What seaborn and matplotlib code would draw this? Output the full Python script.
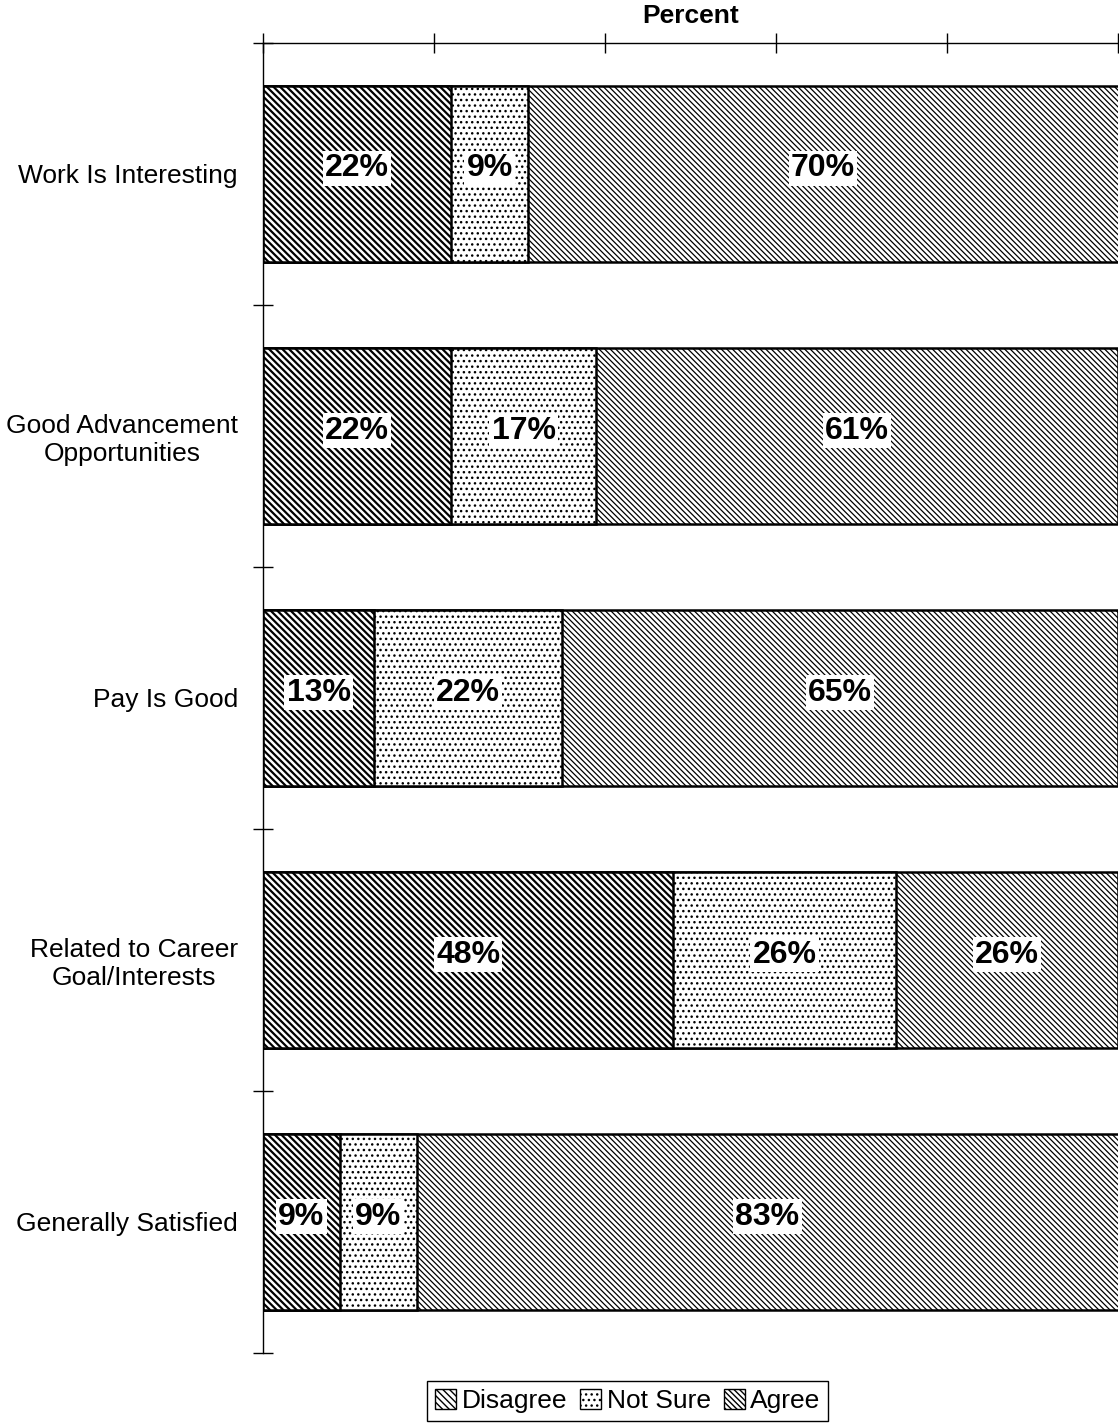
import matplotlib
matplotlib.use("Agg")
import matplotlib.pyplot as plt
import seaborn as sns
import pandas as pd
from matplotlib.patches import Patch

# Dados do gráfico
categorias = ["Work Is Interesting", "Good Advancement\nOpportunities", "Pay Is Good",
              "Related to Career\nGoal/Interests", "Generally Satisfied"]
discorda = [22, 22, 13, 48, 9]
nao_sabe = [9, 17, 22, 26, 9]
concorda = [70, 61, 65, 26, 83]
series = ["Disagree", "Not Sure", "Agree"]
ticks_x = [0, 20, 40, 60, 80, 100]

df = pd.DataFrame({"cat": categorias, "Disagree": discorda, "Not Sure": nao_sabe, "Agree": concorda})
df["cum_d"] = df["Disagree"]
df["cum_n"] = df["Disagree"] + df["Not Sure"]
df["cum_a"] = df["cum_n"] + df["Agree"]

sns.set_style("white")
plt.rcParams["font.family"] = ["Liberation Sans", "DejaVu Sans"]
plt.rcParams["hatch.linewidth"] = 1.0
# Textos em preto puro
for chave in ["text.color", "axes.labelcolor", "xtick.color", "ytick.color"]:
    plt.rcParams[chave] = "black"

hachuras = {"Disagree": "\\" * 5, "Not Sure": "...", "Agree": "\\" * 6}
espessura = {"Disagree": 1.6, "Not Sure": 1.0, "Agree": 0.9}

fig = plt.figure(figsize=(11.19, 14.24), dpi=100)
ax = fig.add_axes([0.235, 0.050, 0.764, 0.920])

# Barras empilhadas: desenhando do total para o início (sobreposição)
for col, serie in [("cum_a", "Agree"), ("cum_n", "Not Sure"), ("cum_d", "Disagree")]:
    n_antes = len(ax.patches)
    sns.barplot(data=df, x=col, y="cat", orient="h", ax=ax, color="white",
                edgecolor="black", linewidth=1.8, hatch=hachuras[serie], width=0.67,
                saturation=1)
    for p in ax.patches[n_antes:]:
        if hasattr(p, "set_hatch_linewidth"):
            p.set_hatch_linewidth(espessura[serie])

# Rótulos de valor no centro de cada segmento
for i, row in df.iterrows():
    inicio = 0
    for serie in series:
        v = row[serie]
        ax.text(min(inicio + v / 2, (inicio + 100) / 2), i - 0.02, f"{v}%", ha="center", va="center",
                fontsize=23, fontweight="bold", color="black",
                bbox=dict(facecolor="white", edgecolor="none", pad=1.5))
        inicio += v

ax.set_xlim(0, 100)
ax.set_ylim(4.5, -0.5)
ax.xaxis.tick_top()
ax.xaxis.set_label_position("top")
ax.set_xticks(ticks_x)
ax.set_xticklabels([])
ax.tick_params(axis="x", direction="inout", length=14, width=1, top=True, bottom=False)
ax.set_xlabel("Percent", fontsize=19, fontweight="bold", labelpad=4)

ax.set_yticks(range(len(categorias)))
ax.set_yticklabels(categorias, fontsize=19, ma="center")
ax.tick_params(axis="y", length=0, pad=18)
ax.set_ylabel("")
# Marcas nas fronteiras entre categorias
ax.set_yticks([i - 0.5 for i in range(len(categorias) + 1)], minor=True)
ax.tick_params(axis="y", which="minor", direction="inout", length=14, width=1, left=True)

for lado in ["right", "bottom"]:
    ax.spines[lado].set_visible(False)
for lado in ["top", "left"]:
    ax.spines[lado].set_color("black")
    ax.spines[lado].set_linewidth(1)

handles = [Patch(facecolor="white", edgecolor="black", hatch=hachuras[s], label=s) for s in series]
fig.legend(handles=handles, loc="lower center", bbox_to_anchor=(0.561, 0.002), ncol=3,
           fontsize=19, frameon=True, fancybox=False, edgecolor="black", framealpha=1,
           handlelength=0.8, handleheight=0.8, handletextpad=0.2, columnspacing=0.5,
           borderpad=0.3, borderaxespad=0)

fig.savefig("out.png", dpi=100)
